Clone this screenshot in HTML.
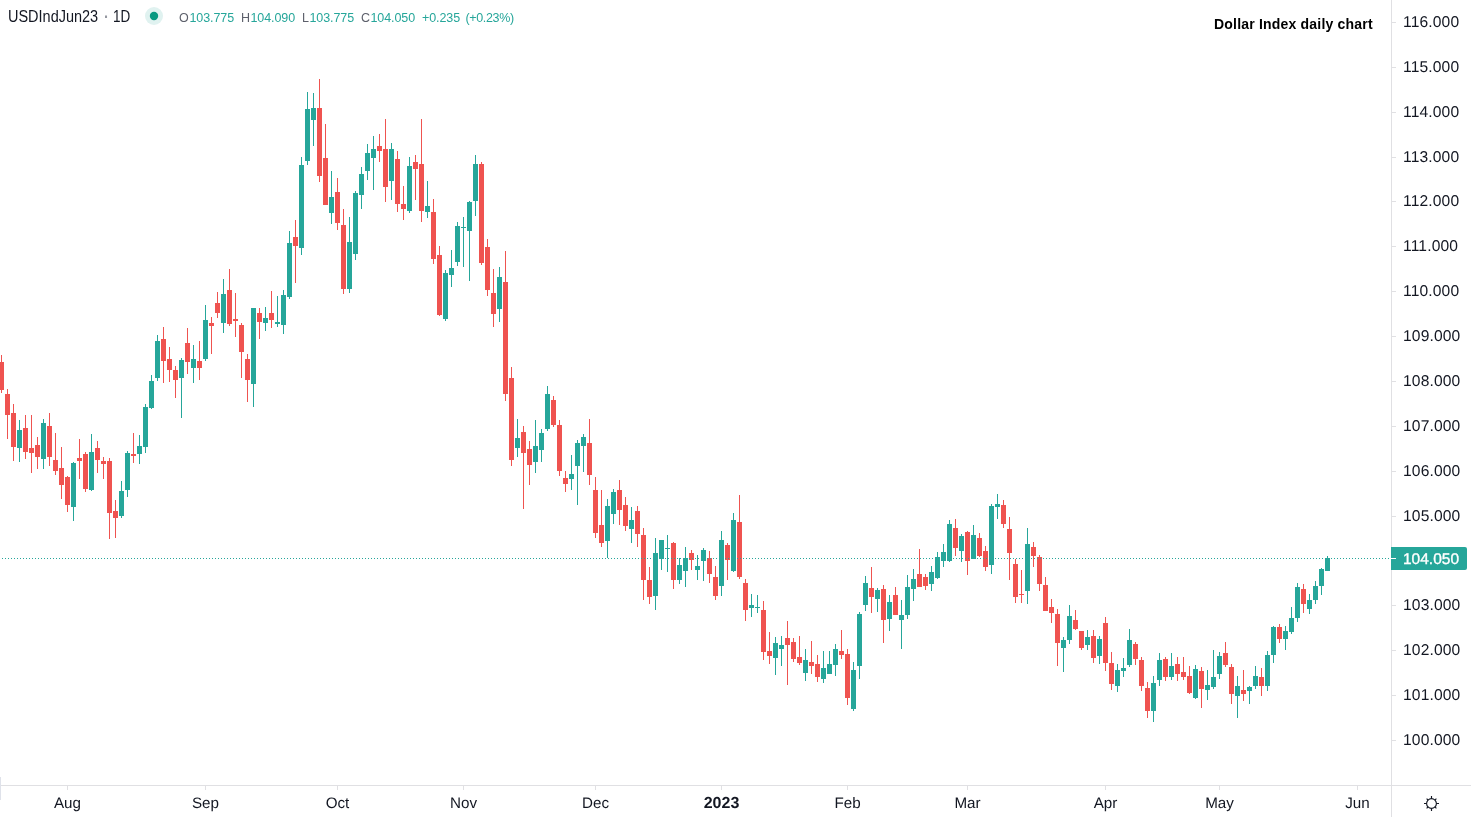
<!DOCTYPE html>
<html><head><meta charset="utf-8"><title>Dollar Index daily chart</title>
<style>
html,body{margin:0;padding:0;background:#fff;}
body{width:1474px;height:817px;overflow:hidden;position:relative;font-family:"Liberation Sans",sans-serif;}
svg{position:absolute;left:0;top:0;}
svg text{font-family:"Liberation Sans",sans-serif;font-size:15px;fill:#131722;text-rendering:geometricPrecision;}
.legend{position:absolute;left:0;top:0;white-space:nowrap;color:#131722;}
.legend span{position:absolute;white-space:nowrap;}
.t{font-size:16px;top:8px;transform:scaleX(0.905);transform-origin:0 0;}
.o{font-size:12.5px;top:11px;color:#5d606b;letter-spacing:-0.3px;}
.v{font-size:12.5px;top:11px;color:#26a69a;letter-spacing:-0.1px;}
.ann{position:absolute;font-weight:bold;font-size:14px;color:#000;white-space:nowrap;left:1214px;top:16px;letter-spacing:0.2px;}
</style></head><body>
<svg width="1474" height="817" viewBox="0 0 1474 817">
<g shape-rendering="crispEdges">
<g fill="#26a69a"><rect x="19" y="420" width="1" height="42"/><rect x="17" y="430" width="5" height="18"/><rect x="43" y="419" width="1" height="50"/><rect x="41" y="423" width="5" height="36"/><rect x="73" y="462" width="1" height="59"/><rect x="71" y="463" width="5" height="44"/><rect x="91" y="434" width="1" height="57"/><rect x="89" y="452" width="5" height="38"/><rect x="121" y="481" width="1" height="37"/><rect x="119" y="491" width="5" height="25"/><rect x="127" y="451" width="1" height="46"/><rect x="125" y="453" width="5" height="37"/><rect x="139" y="435" width="1" height="29"/><rect x="137" y="446" width="5" height="8"/><rect x="145" y="404" width="1" height="49"/><rect x="143" y="407" width="5" height="40"/><rect x="151" y="375" width="1" height="34"/><rect x="149" y="381" width="5" height="27"/><rect x="157" y="335" width="1" height="46"/><rect x="155" y="341" width="5" height="37"/><rect x="181" y="358" width="1" height="60"/><rect x="179" y="360" width="5" height="18"/><rect x="193" y="345" width="1" height="38"/><rect x="191" y="359" width="5" height="9"/><rect x="205" y="305" width="1" height="56"/><rect x="203" y="320" width="5" height="39"/><rect x="223" y="279" width="1" height="54"/><rect x="221" y="294" width="5" height="29"/><rect x="253" y="308" width="1" height="99"/><rect x="251" y="308" width="5" height="76"/><rect x="265" y="307" width="1" height="24"/><rect x="263" y="318" width="5" height="5"/><rect x="277" y="296" width="1" height="31"/><rect x="275" y="322" width="5" height="2"/><rect x="283" y="290" width="1" height="44"/><rect x="281" y="295" width="5" height="30"/><rect x="289" y="231" width="1" height="68"/><rect x="287" y="243" width="5" height="54"/><rect x="301" y="157" width="1" height="98"/><rect x="299" y="165" width="5" height="83"/><rect x="307" y="92" width="1" height="73"/><rect x="305" y="109" width="5" height="52"/><rect x="313" y="93" width="1" height="53"/><rect x="311" y="108" width="5" height="12"/><rect x="331" y="171" width="1" height="53"/><rect x="329" y="197" width="5" height="16"/><rect x="349" y="217" width="1" height="76"/><rect x="347" y="242" width="5" height="47"/><rect x="355" y="191" width="1" height="69"/><rect x="353" y="193" width="5" height="61"/><rect x="361" y="167" width="1" height="42"/><rect x="359" y="174" width="5" height="21"/><rect x="367" y="144" width="1" height="36"/><rect x="365" y="153" width="5" height="18"/><rect x="373" y="136" width="1" height="54"/><rect x="371" y="149" width="5" height="9"/><rect x="391" y="143" width="1" height="57"/><rect x="389" y="149" width="5" height="32"/><rect x="409" y="157" width="1" height="56"/><rect x="407" y="166" width="5" height="45"/><rect x="427" y="181" width="1" height="37"/><rect x="425" y="206" width="5" height="6"/><rect x="445" y="270" width="1" height="51"/><rect x="443" y="273" width="5" height="46"/><rect x="451" y="250" width="1" height="37"/><rect x="449" y="268" width="5" height="7"/><rect x="457" y="222" width="1" height="44"/><rect x="455" y="226" width="5" height="36"/><rect x="463" y="217" width="1" height="50"/><rect x="461" y="227" width="5" height="1"/><rect x="469" y="201" width="1" height="80"/><rect x="467" y="202" width="5" height="29"/><rect x="475" y="155" width="1" height="61"/><rect x="473" y="164" width="5" height="37"/><rect x="499" y="267" width="1" height="55"/><rect x="497" y="277" width="5" height="32"/><rect x="517" y="419" width="1" height="38"/><rect x="515" y="438" width="5" height="10"/><rect x="535" y="420" width="1" height="53"/><rect x="533" y="446" width="5" height="16"/><rect x="541" y="429" width="1" height="33"/><rect x="539" y="433" width="5" height="17"/><rect x="547" y="386" width="1" height="45"/><rect x="545" y="394" width="5" height="35"/><rect x="571" y="455" width="1" height="35"/><rect x="569" y="474" width="5" height="5"/><rect x="577" y="440" width="1" height="65"/><rect x="575" y="443" width="5" height="23"/><rect x="583" y="434" width="1" height="38"/><rect x="581" y="437" width="5" height="9"/><rect x="607" y="499" width="1" height="59"/><rect x="605" y="506" width="5" height="35"/><rect x="613" y="489" width="1" height="35"/><rect x="611" y="492" width="5" height="22"/><rect x="631" y="507" width="1" height="36"/><rect x="629" y="520" width="5" height="9"/><rect x="655" y="538" width="1" height="72"/><rect x="653" y="553" width="5" height="43"/><rect x="661" y="540" width="1" height="30"/><rect x="659" y="540" width="5" height="19"/><rect x="667" y="535" width="1" height="37"/><rect x="665" y="548" width="5" height="1"/><rect x="679" y="558" width="1" height="26"/><rect x="677" y="565" width="5" height="15"/><rect x="685" y="547" width="1" height="40"/><rect x="683" y="558" width="5" height="13"/><rect x="697" y="555" width="1" height="25"/><rect x="695" y="566" width="5" height="4"/><rect x="703" y="548" width="1" height="33"/><rect x="701" y="550" width="5" height="11"/><rect x="721" y="531" width="1" height="65"/><rect x="719" y="540" width="5" height="46"/><rect x="733" y="513" width="1" height="59"/><rect x="731" y="520" width="5" height="51"/><rect x="751" y="594" width="1" height="23"/><rect x="749" y="605" width="5" height="3"/><rect x="757" y="595" width="1" height="18"/><rect x="755" y="607" width="5" height="1"/><rect x="775" y="637" width="1" height="38"/><rect x="773" y="643" width="5" height="15"/><rect x="781" y="636" width="1" height="30"/><rect x="779" y="645" width="5" height="4"/><rect x="805" y="649" width="1" height="32"/><rect x="803" y="660" width="5" height="13"/><rect x="823" y="651" width="1" height="32"/><rect x="821" y="668" width="5" height="11"/><rect x="829" y="651" width="1" height="23"/><rect x="827" y="664" width="5" height="10"/><rect x="835" y="644" width="1" height="32"/><rect x="833" y="649" width="5" height="16"/><rect x="853" y="662" width="1" height="49"/><rect x="851" y="670" width="5" height="39"/><rect x="859" y="612" width="1" height="67"/><rect x="857" y="614" width="5" height="52"/><rect x="865" y="576" width="1" height="35"/><rect x="863" y="583" width="5" height="22"/><rect x="877" y="588" width="1" height="24"/><rect x="875" y="590" width="5" height="9"/><rect x="889" y="595" width="1" height="36"/><rect x="887" y="602" width="5" height="17"/><rect x="901" y="600" width="1" height="49"/><rect x="899" y="615" width="5" height="5"/><rect x="907" y="575" width="1" height="44"/><rect x="905" y="587" width="5" height="28"/><rect x="913" y="569" width="1" height="32"/><rect x="911" y="579" width="5" height="10"/><rect x="931" y="566" width="1" height="25"/><rect x="929" y="572" width="5" height="12"/><rect x="937" y="552" width="1" height="27"/><rect x="935" y="557" width="5" height="21"/><rect x="943" y="544" width="1" height="23"/><rect x="941" y="552" width="5" height="9"/><rect x="949" y="520" width="1" height="42"/><rect x="947" y="524" width="5" height="37"/><rect x="961" y="534" width="1" height="28"/><rect x="959" y="536" width="5" height="15"/><rect x="973" y="525" width="1" height="34"/><rect x="971" y="535" width="5" height="24"/><rect x="991" y="504" width="1" height="70"/><rect x="989" y="506" width="5" height="59"/><rect x="997" y="494" width="1" height="25"/><rect x="995" y="504" width="5" height="3"/><rect x="1027" y="528" width="1" height="76"/><rect x="1025" y="544" width="5" height="47"/><rect x="1063" y="637" width="1" height="35"/><rect x="1061" y="640" width="5" height="8"/><rect x="1069" y="605" width="1" height="39"/><rect x="1067" y="616" width="5" height="24"/><rect x="1087" y="630" width="1" height="20"/><rect x="1085" y="637" width="5" height="8"/><rect x="1099" y="636" width="1" height="28"/><rect x="1097" y="639" width="5" height="17"/><rect x="1117" y="664" width="1" height="28"/><rect x="1115" y="670" width="5" height="16"/><rect x="1123" y="658" width="1" height="19"/><rect x="1121" y="668" width="5" height="3"/><rect x="1129" y="629" width="1" height="38"/><rect x="1127" y="640" width="5" height="25"/><rect x="1153" y="676" width="1" height="46"/><rect x="1151" y="683" width="5" height="28"/><rect x="1159" y="653" width="1" height="33"/><rect x="1157" y="660" width="5" height="20"/><rect x="1171" y="653" width="1" height="27"/><rect x="1169" y="666" width="5" height="11"/><rect x="1195" y="665" width="1" height="34"/><rect x="1193" y="669" width="5" height="29"/><rect x="1207" y="670" width="1" height="30"/><rect x="1205" y="685" width="5" height="5"/><rect x="1213" y="650" width="1" height="39"/><rect x="1211" y="677" width="5" height="10"/><rect x="1219" y="652" width="1" height="27"/><rect x="1217" y="656" width="5" height="18"/><rect x="1237" y="676" width="1" height="42"/><rect x="1235" y="686" width="5" height="10"/><rect x="1249" y="686" width="1" height="18"/><rect x="1247" y="687" width="5" height="4"/><rect x="1255" y="666" width="1" height="23"/><rect x="1253" y="676" width="5" height="10"/><rect x="1267" y="651" width="1" height="40"/><rect x="1265" y="655" width="5" height="31"/><rect x="1273" y="626" width="1" height="37"/><rect x="1271" y="627" width="5" height="28"/><rect x="1285" y="626" width="1" height="24"/><rect x="1283" y="631" width="5" height="8"/><rect x="1291" y="607" width="1" height="27"/><rect x="1289" y="618" width="5" height="14"/><rect x="1297" y="583" width="1" height="39"/><rect x="1295" y="587" width="5" height="31"/><rect x="1309" y="594" width="1" height="20"/><rect x="1307" y="600" width="5" height="9"/><rect x="1315" y="581" width="1" height="23"/><rect x="1313" y="586" width="5" height="14"/><rect x="1321" y="568" width="1" height="27"/><rect x="1319" y="569" width="5" height="17"/><rect x="1327" y="556" width="1" height="15"/><rect x="1325" y="558" width="5" height="13"/></g><g fill="#ef5350"><rect x="1" y="355" width="1" height="38"/><rect x="0" y="362" width="4" height="28"/><rect x="7" y="389" width="1" height="50"/><rect x="5" y="394" width="5" height="21"/><rect x="13" y="404" width="1" height="57"/><rect x="11" y="413" width="5" height="34"/><rect x="25" y="415" width="1" height="44"/><rect x="23" y="428" width="5" height="24"/><rect x="31" y="415" width="1" height="58"/><rect x="29" y="448" width="5" height="5"/><rect x="37" y="437" width="1" height="32"/><rect x="35" y="445" width="5" height="12"/><rect x="49" y="413" width="1" height="53"/><rect x="47" y="426" width="5" height="31"/><rect x="55" y="433" width="1" height="42"/><rect x="53" y="460" width="5" height="11"/><rect x="61" y="447" width="1" height="52"/><rect x="59" y="468" width="5" height="17"/><rect x="67" y="476" width="1" height="36"/><rect x="65" y="477" width="5" height="28"/><rect x="79" y="439" width="1" height="40"/><rect x="77" y="458" width="5" height="3"/><rect x="85" y="452" width="1" height="40"/><rect x="83" y="454" width="5" height="35"/><rect x="97" y="441" width="1" height="32"/><rect x="95" y="448" width="5" height="12"/><rect x="103" y="457" width="1" height="22"/><rect x="101" y="461" width="5" height="3"/><rect x="109" y="458" width="1" height="81"/><rect x="107" y="461" width="5" height="52"/><rect x="115" y="500" width="1" height="38"/><rect x="113" y="511" width="5" height="7"/><rect x="133" y="433" width="1" height="30"/><rect x="131" y="454" width="5" height="2"/><rect x="163" y="327" width="1" height="56"/><rect x="161" y="339" width="5" height="22"/><rect x="169" y="347" width="1" height="35"/><rect x="167" y="359" width="5" height="11"/><rect x="175" y="366" width="1" height="32"/><rect x="173" y="370" width="5" height="10"/><rect x="187" y="328" width="1" height="46"/><rect x="185" y="343" width="5" height="19"/><rect x="199" y="341" width="1" height="39"/><rect x="197" y="361" width="5" height="7"/><rect x="211" y="317" width="1" height="37"/><rect x="209" y="323" width="5" height="3"/><rect x="217" y="292" width="1" height="26"/><rect x="215" y="303" width="5" height="10"/><rect x="229" y="269" width="1" height="57"/><rect x="227" y="290" width="5" height="34"/><rect x="235" y="293" width="1" height="44"/><rect x="233" y="319" width="5" height="2"/><rect x="241" y="323" width="1" height="55"/><rect x="239" y="325" width="5" height="27"/><rect x="247" y="354" width="1" height="48"/><rect x="245" y="359" width="5" height="21"/><rect x="259" y="308" width="1" height="31"/><rect x="257" y="313" width="5" height="9"/><rect x="271" y="291" width="1" height="37"/><rect x="269" y="313" width="5" height="7"/><rect x="295" y="220" width="1" height="63"/><rect x="293" y="237" width="5" height="9"/><rect x="319" y="79" width="1" height="103"/><rect x="317" y="108" width="5" height="68"/><rect x="325" y="124" width="1" height="81"/><rect x="323" y="158" width="5" height="47"/><rect x="337" y="178" width="1" height="52"/><rect x="335" y="192" width="5" height="31"/><rect x="343" y="209" width="1" height="85"/><rect x="341" y="225" width="5" height="64"/><rect x="379" y="134" width="1" height="28"/><rect x="377" y="146" width="5" height="5"/><rect x="385" y="119" width="1" height="83"/><rect x="383" y="149" width="5" height="38"/><rect x="397" y="151" width="1" height="61"/><rect x="395" y="159" width="5" height="45"/><rect x="403" y="186" width="1" height="34"/><rect x="401" y="204" width="5" height="5"/><rect x="415" y="155" width="1" height="45"/><rect x="413" y="162" width="5" height="7"/><rect x="421" y="119" width="1" height="103"/><rect x="419" y="164" width="5" height="47"/><rect x="433" y="199" width="1" height="65"/><rect x="431" y="212" width="5" height="47"/><rect x="439" y="246" width="1" height="70"/><rect x="437" y="255" width="5" height="60"/><rect x="481" y="162" width="1" height="103"/><rect x="479" y="164" width="5" height="99"/><rect x="487" y="239" width="1" height="57"/><rect x="485" y="247" width="5" height="43"/><rect x="493" y="269" width="1" height="58"/><rect x="491" y="293" width="5" height="21"/><rect x="505" y="251" width="1" height="150"/><rect x="503" y="282" width="5" height="112"/><rect x="511" y="367" width="1" height="99"/><rect x="509" y="378" width="5" height="82"/><rect x="523" y="426" width="1" height="83"/><rect x="521" y="432" width="5" height="21"/><rect x="529" y="441" width="1" height="44"/><rect x="527" y="449" width="5" height="16"/><rect x="553" y="396" width="1" height="31"/><rect x="551" y="400" width="5" height="25"/><rect x="559" y="420" width="1" height="56"/><rect x="557" y="425" width="5" height="46"/><rect x="565" y="471" width="1" height="21"/><rect x="563" y="478" width="5" height="6"/><rect x="589" y="419" width="1" height="66"/><rect x="587" y="443" width="5" height="32"/><rect x="595" y="477" width="1" height="61"/><rect x="593" y="490" width="5" height="43"/><rect x="601" y="490" width="1" height="57"/><rect x="599" y="525" width="5" height="18"/><rect x="619" y="480" width="1" height="45"/><rect x="617" y="490" width="5" height="20"/><rect x="625" y="497" width="1" height="34"/><rect x="623" y="505" width="5" height="21"/><rect x="637" y="506" width="1" height="41"/><rect x="635" y="511" width="5" height="23"/><rect x="643" y="528" width="1" height="72"/><rect x="641" y="535" width="5" height="45"/><rect x="649" y="567" width="1" height="37"/><rect x="647" y="580" width="5" height="17"/><rect x="673" y="542" width="1" height="47"/><rect x="671" y="543" width="5" height="37"/><rect x="691" y="550" width="1" height="20"/><rect x="689" y="553" width="5" height="7"/><rect x="709" y="551" width="1" height="32"/><rect x="707" y="558" width="5" height="16"/><rect x="715" y="566" width="1" height="34"/><rect x="713" y="577" width="5" height="19"/><rect x="727" y="543" width="1" height="37"/><rect x="725" y="545" width="5" height="15"/><rect x="739" y="495" width="1" height="84"/><rect x="737" y="522" width="5" height="55"/><rect x="745" y="579" width="1" height="42"/><rect x="743" y="583" width="5" height="27"/><rect x="763" y="601" width="1" height="59"/><rect x="761" y="610" width="5" height="42"/><rect x="769" y="632" width="1" height="32"/><rect x="767" y="651" width="5" height="5"/><rect x="787" y="621" width="1" height="64"/><rect x="785" y="638" width="5" height="7"/><rect x="793" y="638" width="1" height="24"/><rect x="791" y="642" width="5" height="17"/><rect x="799" y="636" width="1" height="29"/><rect x="797" y="657" width="5" height="6"/><rect x="811" y="641" width="1" height="33"/><rect x="809" y="662" width="5" height="4"/><rect x="817" y="655" width="1" height="27"/><rect x="815" y="664" width="5" height="13"/><rect x="841" y="630" width="1" height="29"/><rect x="839" y="651" width="5" height="4"/><rect x="847" y="649" width="1" height="56"/><rect x="845" y="654" width="5" height="44"/><rect x="871" y="567" width="1" height="46"/><rect x="869" y="588" width="5" height="9"/><rect x="883" y="585" width="1" height="58"/><rect x="881" y="589" width="5" height="31"/><rect x="895" y="587" width="1" height="28"/><rect x="893" y="595" width="5" height="20"/><rect x="919" y="549" width="1" height="38"/><rect x="917" y="574" width="5" height="13"/><rect x="925" y="574" width="1" height="16"/><rect x="923" y="577" width="5" height="9"/><rect x="955" y="519" width="1" height="37"/><rect x="953" y="528" width="5" height="20"/><rect x="967" y="531" width="1" height="44"/><rect x="965" y="532" width="5" height="29"/><rect x="979" y="533" width="1" height="24"/><rect x="977" y="538" width="5" height="18"/><rect x="985" y="546" width="1" height="25"/><rect x="983" y="551" width="5" height="16"/><rect x="1003" y="500" width="1" height="28"/><rect x="1001" y="505" width="5" height="19"/><rect x="1009" y="517" width="1" height="63"/><rect x="1007" y="529" width="5" height="24"/><rect x="1015" y="559" width="1" height="44"/><rect x="1013" y="564" width="5" height="33"/><rect x="1021" y="570" width="1" height="33"/><rect x="1019" y="594" width="5" height="1"/><rect x="1033" y="542" width="1" height="25"/><rect x="1031" y="547" width="5" height="9"/><rect x="1039" y="555" width="1" height="36"/><rect x="1037" y="557" width="5" height="27"/><rect x="1045" y="577" width="1" height="34"/><rect x="1043" y="585" width="5" height="26"/><rect x="1051" y="599" width="1" height="24"/><rect x="1049" y="607" width="5" height="6"/><rect x="1057" y="609" width="1" height="57"/><rect x="1055" y="614" width="5" height="29"/><rect x="1075" y="610" width="1" height="20"/><rect x="1073" y="620" width="5" height="9"/><rect x="1081" y="631" width="1" height="19"/><rect x="1079" y="631" width="5" height="17"/><rect x="1093" y="630" width="1" height="33"/><rect x="1091" y="636" width="5" height="22"/><rect x="1105" y="617" width="1" height="54"/><rect x="1103" y="623" width="5" height="40"/><rect x="1111" y="652" width="1" height="38"/><rect x="1109" y="663" width="5" height="21"/><rect x="1135" y="642" width="1" height="23"/><rect x="1133" y="644" width="5" height="15"/><rect x="1141" y="657" width="1" height="34"/><rect x="1139" y="660" width="5" height="26"/><rect x="1147" y="682" width="1" height="36"/><rect x="1145" y="688" width="5" height="23"/><rect x="1165" y="657" width="1" height="24"/><rect x="1163" y="659" width="5" height="18"/><rect x="1177" y="657" width="1" height="24"/><rect x="1175" y="664" width="5" height="10"/><rect x="1183" y="657" width="1" height="23"/><rect x="1181" y="672" width="5" height="5"/><rect x="1189" y="666" width="1" height="28"/><rect x="1187" y="676" width="5" height="17"/><rect x="1201" y="667" width="1" height="41"/><rect x="1199" y="671" width="5" height="18"/><rect x="1225" y="642" width="1" height="25"/><rect x="1223" y="653" width="5" height="12"/><rect x="1231" y="664" width="1" height="40"/><rect x="1229" y="667" width="5" height="27"/><rect x="1243" y="670" width="1" height="31"/><rect x="1241" y="690" width="5" height="4"/><rect x="1261" y="668" width="1" height="28"/><rect x="1259" y="677" width="5" height="9"/><rect x="1279" y="624" width="1" height="19"/><rect x="1277" y="627" width="5" height="12"/><rect x="1303" y="584" width="1" height="29"/><rect x="1301" y="589" width="5" height="15"/></g>
<line x1="2" y1="558.5" x2="1390" y2="558.5" stroke="#26a69a" stroke-width="1" stroke-dasharray="1 2"/>
<rect x="1391" y="0" width="1" height="817" fill="#e0e0e3"/><rect x="0" y="785" width="1471" height="1" fill="#e0e0e3"/><rect x="0" y="777" width="1" height="23" fill="#dfe2ea"/><rect x="1392" y="22" width="4" height="1" fill="#e0e0e3"/><rect x="1392" y="67" width="4" height="1" fill="#e0e0e3"/><rect x="1392" y="112" width="4" height="1" fill="#e0e0e3"/><rect x="1392" y="157" width="4" height="1" fill="#e0e0e3"/><rect x="1392" y="201" width="4" height="1" fill="#e0e0e3"/><rect x="1392" y="246" width="4" height="1" fill="#e0e0e3"/><rect x="1392" y="291" width="4" height="1" fill="#e0e0e3"/><rect x="1392" y="336" width="4" height="1" fill="#e0e0e3"/><rect x="1392" y="381" width="4" height="1" fill="#e0e0e3"/><rect x="1392" y="426" width="4" height="1" fill="#e0e0e3"/><rect x="1392" y="471" width="4" height="1" fill="#e0e0e3"/><rect x="1392" y="516" width="4" height="1" fill="#e0e0e3"/><rect x="1392" y="560" width="4" height="1" fill="#e0e0e3"/><rect x="1392" y="605" width="4" height="1" fill="#e0e0e3"/><rect x="1392" y="650" width="4" height="1" fill="#e0e0e3"/><rect x="1392" y="695" width="4" height="1" fill="#e0e0e3"/><rect x="1392" y="740" width="4" height="1" fill="#e0e0e3"/><rect x="67" y="786" width="1" height="4" fill="#e0e0e3"/><rect x="205" y="786" width="1" height="4" fill="#e0e0e3"/><rect x="337" y="786" width="1" height="4" fill="#e0e0e3"/><rect x="463" y="786" width="1" height="4" fill="#e0e0e3"/><rect x="595" y="786" width="1" height="4" fill="#e0e0e3"/><rect x="721" y="786" width="1" height="4" fill="#e0e0e3"/><rect x="847" y="786" width="1" height="4" fill="#e0e0e3"/><rect x="967" y="786" width="1" height="4" fill="#e0e0e3"/><rect x="1105" y="786" width="1" height="4" fill="#e0e0e3"/><rect x="1219" y="786" width="1" height="4" fill="#e0e0e3"/><rect x="1357" y="786" width="1" height="4" fill="#e0e0e3"/>
<path d="M1391 547h74a2 2 0 0 1 2 2v19a2 2 0 0 1 -2 2h-74z" fill="#26a69a" shape-rendering="auto"/>
<rect x="1391" y="558" width="5" height="1" fill="#fff"/>
</g>
<g><text x="1403" y="27" style="font-size:15.6px;letter-spacing:0.15px">116.000</text><text x="1403" y="72" style="font-size:15.6px;letter-spacing:0.15px">115.000</text><text x="1403" y="117" style="font-size:15.6px;letter-spacing:0.15px">114.000</text><text x="1403" y="162" style="font-size:15.6px;letter-spacing:0.15px">113.000</text><text x="1403" y="206" style="font-size:15.6px;letter-spacing:0.15px">112.000</text><text x="1403" y="251" style="font-size:15.6px;letter-spacing:0.15px">111.000</text><text x="1403" y="296" style="font-size:15.6px;letter-spacing:0.15px">110.000</text><text x="1403" y="341" style="font-size:15.6px;letter-spacing:0.15px">109.000</text><text x="1403" y="386" style="font-size:15.6px;letter-spacing:0.15px">108.000</text><text x="1403" y="431" style="font-size:15.6px;letter-spacing:0.15px">107.000</text><text x="1403" y="476" style="font-size:15.6px;letter-spacing:0.15px">106.000</text><text x="1403" y="521" style="font-size:15.6px;letter-spacing:0.15px">105.000</text><text x="1403" y="610" style="font-size:15.6px;letter-spacing:0.15px">103.000</text><text x="1403" y="655" style="font-size:15.6px;letter-spacing:0.15px">102.000</text><text x="1403" y="700" style="font-size:15.6px;letter-spacing:0.15px">101.000</text><text x="1403" y="745" style="font-size:15.6px;letter-spacing:0.15px">100.000</text></g>
<g><text x="67.5" y="808" text-anchor="middle" style="font-size:15.2px">Aug</text><text x="205.5" y="808" text-anchor="middle" style="font-size:15.2px">Sep</text><text x="337.5" y="808" text-anchor="middle" style="font-size:15.2px">Oct</text><text x="463.5" y="808" text-anchor="middle" style="font-size:15.2px">Nov</text><text x="595.5" y="808" text-anchor="middle" style="font-size:15.2px">Dec</text><text x="721.5" y="808" text-anchor="middle" font-weight="bold" style="font-size:16px">2023</text><text x="847.5" y="808" text-anchor="middle" style="font-size:15.2px">Feb</text><text x="967.5" y="808" text-anchor="middle" style="font-size:15.2px">Mar</text><text x="1105.5" y="808" text-anchor="middle" style="font-size:15.2px">Apr</text><text x="1219.5" y="808" text-anchor="middle" style="font-size:15.2px">May</text><text x="1357.5" y="808" text-anchor="middle" style="font-size:15.2px">Jun</text></g>
<text x="1403" y="564" style="fill:#fff;font-size:15.5px;stroke:#fff;stroke-width:0.35px">104.050</text>
<circle cx="154" cy="16" r="9" fill="#e0f2f0"/>
<circle cx="154" cy="16" r="4.2" fill="#089981"/>
<g stroke="#131722" stroke-width="1.15" fill="none" stroke-linecap="butt">
<circle cx="1431.5" cy="803.5" r="4.9"/>
<path d="M1431.5 796v2.6M1431.5 811v-2.6M1424 803.5h2.6M1439 803.5h-2.6M1426.6 798.6l1.5 1.5M1436.4 798.6l-1.5 1.5M1426.6 808.4l1.5 -1.5M1436.4 808.4l-1.5 -1.5"/>
</g>
</svg>
<div class="legend">
<span class="t" style="left:8px">USDIndJun23</span>
<span class="t" style="left:103.5px;color:#9598a1;font-weight:bold">·</span>
<span class="t" style="left:113px;transform:scaleX(0.845)">1D</span>
<span class="o" style="left:179px">O</span><span class="v" style="left:189.5px">103.775</span>
<span class="o" style="left:241px">H</span><span class="v" style="left:250.5px">104.090</span>
<span class="o" style="left:302px">L</span><span class="v" style="left:309.5px">103.775</span>
<span class="o" style="left:361px">C</span><span class="v" style="left:370.5px">104.050</span>
<span class="v" style="left:422px">+0.235</span>
<span class="v" style="left:465.5px;letter-spacing:-0.35px">(+0.23%)</span>
</div>
<div class="ann">Dollar Index daily chart</div>
</body></html>
